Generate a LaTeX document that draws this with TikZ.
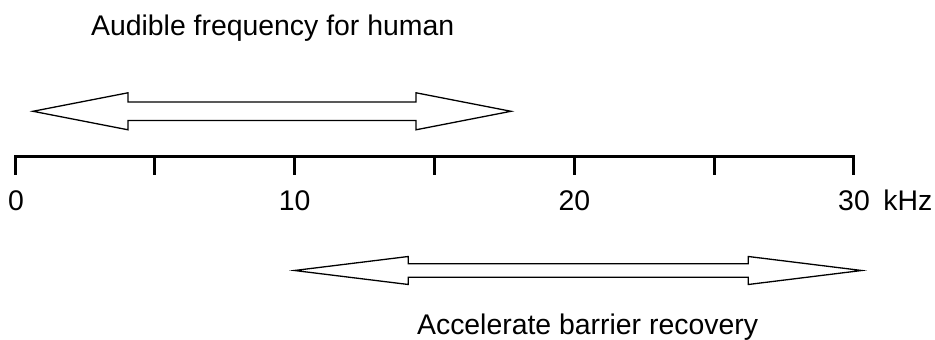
\documentclass[tikz,border=0pt]{standalone}
\usepackage{fontspec}
\setmainfont{Liberation Sans}

\begin{document}
\begin{tikzpicture}[x=0.5pt,y=-0.5pt,
        axis/.style={line width=1.5pt,line cap=butt},
        band/.style={draw,line width=0.65pt,line join=miter},
        txt/.style={inner sep=0pt,font=\fontsize{14.2}{17}\selectfont}]

        \useasboundingbox (0,0) rectangle (935,340);

        % frequency scale
        \foreach \k in {0,...,6}
                \coordinate (T\k) at ({15+\k*139.83},157);
        \draw[axis] ([yshift=-9pt]T0) -- (T0) -- (T6) -- ([yshift=-9pt]T6);
        \foreach \k in {1,...,5}
                \draw[axis] (T\k) -- ([yshift=-9pt]T\k);

        \node[txt,anchor=base] (L0)  at (16,210.5)     {0};
        \node[txt,anchor=base] (L10) at (294.7,210.5)  {10};
        \node[txt,anchor=base] (L20) at (574.4,210.5)  {20};
        \node[txt,anchor=base] (L30) at (854,210.5)    {30};
        \node[txt,anchor=base west] (U) at (883,210.5) {kHz};

        % audible band
        \draw[band] (33,111.3) -- (128,92.8) -- (128,102) -- (416,102) -- (416,92.8)
                 -- (511,111.3) -- (416,129.8) -- (416,120.6) -- (128,120.6)
                 -- (128,129.8) -- cycle;
        \node[txt,anchor=base west] (Aud) at (90.7,36) {Audible frequency for human};

        % recovery band
        \draw[band] (294.5,270.5) -- (408.3,256.5) -- (408.3,263.7) -- (748.3,263.7)
                 -- (748.3,256.5) -- (861.7,270.5) -- (748.3,284.5) -- (748.3,277.3)
                 -- (408.3,277.3) -- (408.3,284.5) -- cycle;
        \node[txt,anchor=base west] (Acc) at (416.7,335) {Accelerate barrier recovery};
      \end{tikzpicture}
\end{document}
